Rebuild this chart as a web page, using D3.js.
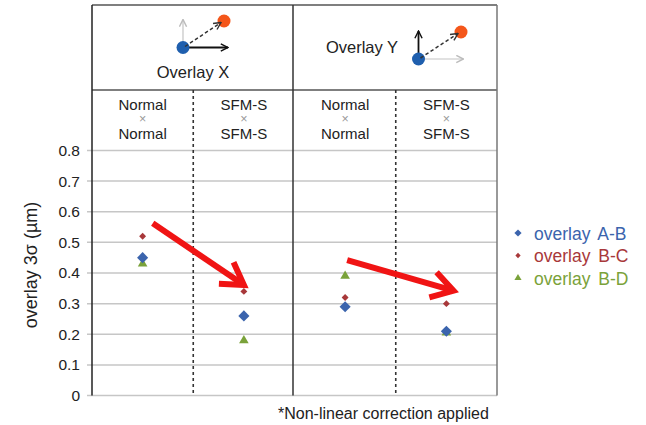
<!DOCTYPE html>
<html>
<head>
<meta charset="utf-8">
<script src="https://cdn.jsdelivr.net/npm/d3@7"></script>
<style>
  body { margin: 0; background: #fff; }
  svg text { font-family: "Liberation Sans", Arial, sans-serif; }
</style>
</head>
<body>
<div id="graphicContainer"></div>
<script>

// categories (bottom header row) and their two-line labels
const groups = ["nn-x", "ss-x", "nn-y", "ss-y"]
const labelTop = ["Normal", "SFM-S", "Normal", "SFM-S"]
const labelBottom = ["Normal", "SFM-S", "Normal", "SFM-S"]

// series
const seriesNames = ["overlay A-B", "overlay B-C", "overlay B-D"]
const overlayAB = [0.45, 0.26, 0.29, 0.21]
const overlayBC = [0.52, 0.34, 0.32, 0.30]
const overlayBD = [0.43, 0.18, 0.39, 0.205]

const yTicks = [0, 0.1, 0.2, 0.3, 0.4, 0.5, 0.6, 0.7, 0.8]

// trend arrows, x as group index, y in µm
const trendArrows = [
  { x0: 0.1, y0: 0.562, x1: 1.0, y1: 0.361 },
  { x0: 2.02, y0: 0.442, x1: 3.07, y1: 0.342 }
]

const width = 646
const height = 425
const marginleft = 92
const marginright = 149
const plotTop = 5
const headerBottom = 90
const plotBottom = 395.6

const colors = {
  "overlay A-B": "#3b64ad",
  "overlay B-C": "#a8383a",
  "overlay B-D": "#7aa23a"
}

const svg = d3.select("#graphicContainer").append("svg")
  .attr("width", width)
  .attr("height", height)

const x = d3.scaleBand()
  .domain(groups)
  .range([marginleft, width - marginright])

const y = d3.scaleLinear()
  .domain([0, 0.8])
  .range([plotBottom, 150.4])

const xAt = (i) => x.range()[0] + x.step() * (i + 0.5)

// gridlines + ticks
svg.append("g")
  .attr("class", "axis y")
  .attr("transform", `translate(${marginleft},0)`)
  .call(d3.axisLeft(y).tickValues(yTicks).tickSize(0).tickPadding(12).tickFormat(d => d === 0 ? "0" : d3.format(".1f")(d)))
  .call(g => g.select(".domain").remove())
  .call(g => g.selectAll(".tick text").style("font-size", "15.5px").attr("fill", "#222"))

svg.append("g")
  .selectAll("line")
  .data(yTicks)
  .enter()
  .append("line")
  .attr("x1", marginleft - 5)
  .attr("x2", width - marginright)
  .attr("y1", d => y(d))
  .attr("y2", d => y(d))
  .attr("stroke", "#c6c6c6")
  .attr("stroke-width", 1.5)

// frame
const frame = svg.append("g")

frame.append("line")
  .attr("x1", marginleft).attr("x2", width - marginright)
  .attr("y1", plotTop).attr("y2", plotTop)
  .attr("stroke", "#555").attr("stroke-width", 1.5)

frame.append("line")
  .attr("x1", marginleft).attr("x2", width - marginright)
  .attr("y1", headerBottom).attr("y2", headerBottom)
  .attr("stroke", "#555").attr("stroke-width", 1.5)

frame.append("line")
  .attr("x1", marginleft).attr("x2", marginleft)
  .attr("y1", plotTop).attr("y2", plotBottom)
  .attr("stroke", "#222").attr("stroke-width", 1.5)

frame.append("line")
  .attr("x1", width - marginright).attr("x2", width - marginright)
  .attr("y1", plotTop).attr("y2", plotBottom)
  .attr("stroke", "#777").attr("stroke-width", 1.5)

// solid divider between X and Y
frame.append("line")
  .attr("x1", x(groups[2]) - 1.5).attr("x2", x(groups[2]) - 1.5)
  .attr("y1", plotTop).attr("y2", plotBottom)
  .attr("stroke", "#333").attr("stroke-width", 1.5)

// dashed dividers
frame.selectAll(".dash")
  .data([groups[1], groups[3]])
  .enter()
  .append("line")
  .attr("class", "dash")
  .attr("x1", d => x(d)).attr("x2", d => x(d))
  .attr("y1", headerBottom).attr("y2", plotBottom)
  .attr("stroke", "#333").attr("stroke-width", 1.6)
  .attr("stroke-dasharray", "3 3")

// category labels
const catLabels = svg.append("g")
groups.forEach((g, i) => {
  const cx = x(g) + x.bandwidth() / 2
  catLabels.append("text").attr("x", cx).attr("y", 109.5).attr("text-anchor", "middle")
    .style("font-size", "15px").attr("fill", "#222").text(labelTop[i])
  catLabels.append("text").attr("x", cx).attr("y", 123).attr("text-anchor", "middle")
    .style("font-size", "12.5px").attr("fill", "#999").text("×")
  catLabels.append("text").attr("x", cx).attr("y", 138.5).attr("text-anchor", "middle")
    .style("font-size", "15px").attr("fill", "#222").text(labelBottom[i])
})

// header illustrations
const defs = svg.append("defs")
function addHead(id, color) {
  defs.append("marker")
    .attr("id", id)
    .attr("viewBox", "0 0 10 10")
    .attr("refX", 9).attr("refY", 5)
    .attr("markerWidth", 9).attr("markerHeight", 9)
    .attr("markerUnits", "userSpaceOnUse")
    .attr("orient", "auto")
    .append("path")
    .attr("d", "M1,1 L9,5 L1,9")
    .attr("fill", "none")
    .attr("stroke", color)
    .attr("stroke-width", 1.6)
}
addHead("headBlack", "#111")
addHead("headGray", "#bbb")
addHead("headDash", "#333")

function vectorIcon(g, bx, by, ox, oy, main) {
  // x component
  g.append("line").attr("x1", bx).attr("y1", by).attr("x2", bx + 45).attr("y2", by)
    .attr("stroke", main === "x" ? "#111" : "#c4c4c4")
    .attr("stroke-width", main === "x" ? 1.8 : 1.2)
    .attr("marker-end", main === "x" ? "url(#headBlack)" : "url(#headGray)")
  // y component
  g.append("line").attr("x1", bx).attr("y1", by).attr("x2", bx).attr("y2", by - 28)
    .attr("stroke", main === "y" ? "#111" : "#c4c4c4")
    .attr("stroke-width", main === "y" ? 1.8 : 1.2)
    .attr("marker-end", main === "y" ? "url(#headBlack)" : "url(#headGray)")
  g.append("circle").attr("cx", bx).attr("cy", by).attr("r", 6.5).attr("fill", "#1f5fae")
  g.append("circle").attr("cx", ox).attr("cy", oy).attr("r", 6.5).attr("fill", "#f4561a")
  g.append("line").attr("x1", bx + 2).attr("y1", by - 1).attr("x2", ox - 3).attr("y2", oy + 1.5)
    .attr("stroke", "#333").attr("stroke-width", 1.5).attr("stroke-dasharray", "3.5 2.5")
    .attr("marker-end", "url(#headDash)")
}

const header = svg.append("g")
vectorIcon(header, 183, 47.5, 224, 21, "x")
vectorIcon(header, 418.5, 59, 461, 32, "y")

header.append("text").attr("x", 193).attr("y", 78).attr("text-anchor", "middle")
  .style("font-size", "16.5px").attr("fill", "#222").text("Overlay X")
header.append("text").attr("x", 362).attr("y", 53).attr("text-anchor", "middle")
  .style("font-size", "16.5px").attr("fill", "#222").text("Overlay Y")

// series points
const series = [
  { name: "overlay A-B", values: overlayAB, shape: d3.symbolSquare, size: 62, rotate: 45 },
  { name: "overlay B-C", values: overlayBC, shape: d3.symbolSquare, size: 24, rotate: 45 },
  { name: "overlay B-D", values: overlayBD, shape: d3.symbolTriangle, size: 40, rotate: 0 }
]

const points = svg.append("g")
series.slice().reverse().forEach(s => {
  points.selectAll(null)
    .data(s.values)
    .enter()
    .append("path")
    .attr("d", d3.symbol().type(s.shape).size(s.size))
    .attr("transform", (d, i) => `translate(${x(groups[i]) + x.bandwidth() / 2},${y(d)}) rotate(${s.rotate})`)
    .attr("fill", colors[s.name])
})

// red trend arrows
const arrows = svg.append("g")
trendArrows.forEach(a => {
  const x0 = xAt(a.x0), y0 = y(a.y0), x1 = xAt(a.x1), y1 = y(a.y1)
  const ang = Math.atan2(y1 - y0, x1 - x0)
  const len = 25, spread = 0.55
  arrows.append("line")
    .attr("x1", x0).attr("y1", y0)
    .attr("x2", x1 - Math.cos(ang) * 3).attr("y2", y1 - Math.sin(ang) * 3)
    .attr("stroke", "#f01414").attr("stroke-width", 6)
  arrows.append("path")
    .attr("d", d3.line()([
      [x1 - len * Math.cos(ang - spread), y1 - len * Math.sin(ang - spread)],
      [x1, y1],
      [x1 - len * Math.cos(ang + spread), y1 - len * Math.sin(ang + spread)]
    ]))
    .attr("fill", "none")
    .attr("stroke", "#f01414").attr("stroke-width", 6)
    .attr("stroke-linejoin", "miter")
})

// y axis label
svg.append("text")
  .attr("transform", `translate(37,265) rotate(-90)`)
  .attr("text-anchor", "middle")
  .style("font-size", "18px")
  .attr("fill", "#222")
  .text("overlay 3σ (µm)")

// legend
const legend = svg.append("g").attr("transform", "translate(518,233)")
const legendSymbols = [
  { shape: d3.symbolSquare, size: 26, rotate: 45 },
  { shape: d3.symbolSquare, size: 14, rotate: 45 },
  { shape: d3.symbolTriangle, size: 22, rotate: 0 }
]
seriesNames.forEach((name, i) => {
  const row = legend.append("g").attr("transform", `translate(0,${i * 22.5})`)
  row.append("path")
    .attr("d", d3.symbol().type(legendSymbols[i].shape).size(legendSymbols[i].size))
    .attr("transform", `rotate(${legendSymbols[i].rotate})`)
    .attr("fill", colors[name])
  row.append("text")
    .attr("x", 16).attr("y", 6.5)
    .style("font-size", "17.5px")
    .style("word-spacing", "3px")
    .attr("fill", colors[name])
    .text(name)
})

// footnote
svg.append("text")
  .attr("x", 278).attr("y", 419)
  .style("font-size", "16px")
  .attr("fill", "#222")
  .text("*Non-linear correction applied")

</script>
</body>
</html>
